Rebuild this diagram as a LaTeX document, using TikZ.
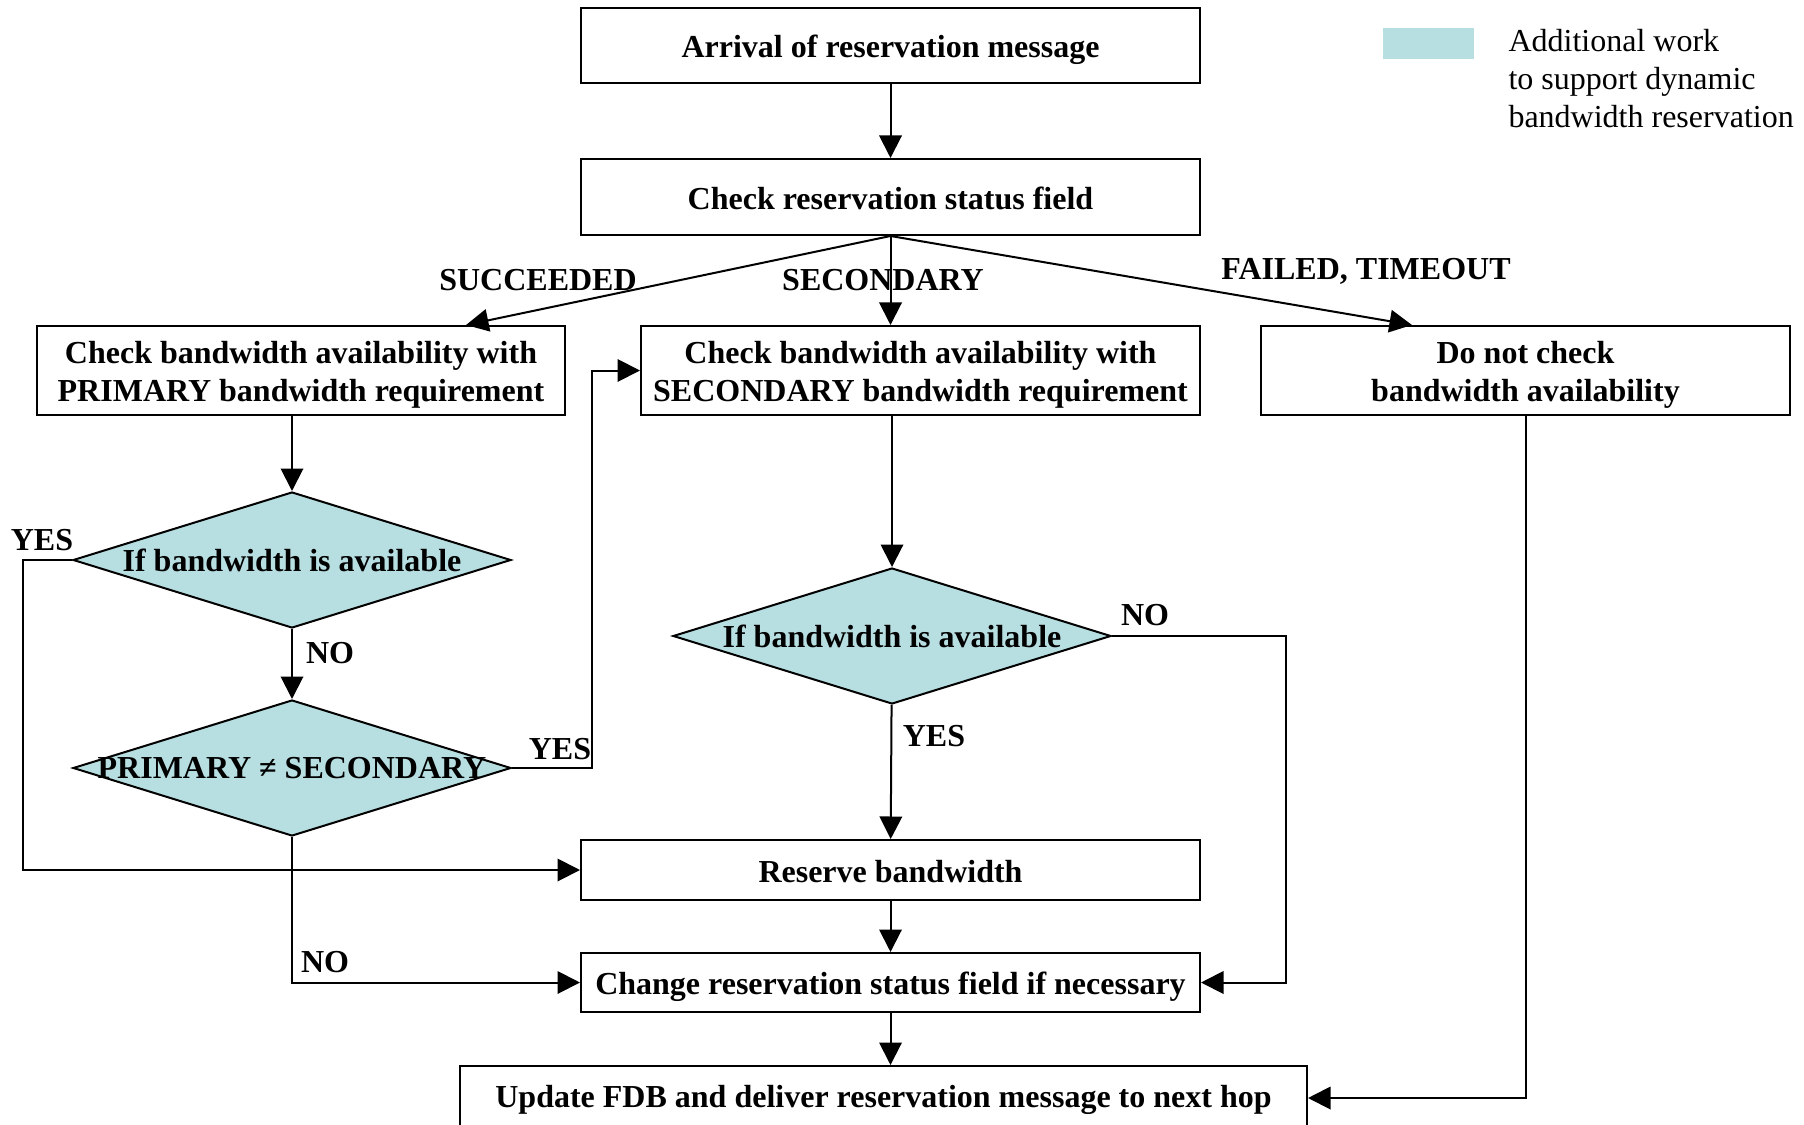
\documentclass[tikz,border=0pt]{standalone}
\usepackage{fontspec}
\setmainfont{Liberation Serif}
\usepackage{tikz}
\usetikzlibrary{arrows.meta,calc,shapes.geometric}
\definecolor{zusatz}{RGB}{183,223,226}
%Text im Kasten etwas tiefer setzen
\newcommand{\tief}[2][1.8pt]{\raisebox{-#1}[\height][\depth]{\begin{tabular}{@{}c@{}}#2\end{tabular}}}
\tikzset{
  kasten/.style={draw,line width=0.8pt,inner sep=0pt,
    font=\fontsize{12.8}{15.2}\selectfont\bfseries},
  raute/.style={draw,shape=diamond,fill=zusatz,line width=0.8pt,inner sep=0pt,
    minimum width=175.2pt,minimum height=54.4pt,
    font=\fontsize{12.8}{15.2}\selectfont\bfseries},
  marke/.style={inner sep=0pt,font=\fontsize{12.8}{15.2}\selectfont\bfseries},
  pfeil/.style={line width=0.8pt,-{Triangle[length=9pt,width=9pt]}}
}
\begin{document}
\begin{tikzpicture}[x=0.4pt,y=-0.4pt]
\useasboundingbox (0,0) rectangle (1804,1125);
%Kaesten
\node[kasten,minimum width=247.6pt,minimum height=30pt] (arrival) at (890.5,45.5) {\tief{Arrival of reservation message}};
\node[kasten,minimum width=247.6pt,minimum height=30.4pt] (status) at (890.5,197) {\tief{Check reservation status field}};
\node[kasten,minimum width=211.2pt,minimum height=35.6pt] (primary) at (301,370.5) {\tief{Check bandwidth availability with\\PRIMARY bandwidth requirement}};
\node[kasten,minimum width=223.6pt,minimum height=35.6pt] (secondary) at (920.5,370.5) {\tief{Check bandwidth availability with\\SECONDARY bandwidth requirement}};
\node[kasten,minimum width=211.6pt,minimum height=35.6pt] (nocheck) at (1525.5,370.5) {\tief{Do not check\\bandwidth availability}};
\node[kasten,minimum width=247.6pt,minimum height=24pt] (reserve) at (890.5,870) {\tief{Reserve bandwidth}};
\node[kasten,minimum width=247.6pt,minimum height=23.6pt] (change) at (890.5,982.5) {\tief{Change reservation status field if necessary}};
\node[kasten,minimum width=338.8pt,minimum height=25.6pt] (update) at (883.5,1098) {\tief[0.9pt]{Update FDB and deliver reservation message to next hop}};
%Entscheidungen
\node[raute] (availA) at (292,560) {\makebox[0pt]{If bandwidth is available}};
\node[raute] (differ) at (292,768) {\makebox[0pt]{PRIMARY ≠ SECONDARY}};
\node[raute] (availB) at (892,636) {\makebox[0pt]{If bandwidth is available}};
%Legende
\fill[zusatz] (1383,28) rectangle (1474,59);
\node[anchor=west,align=left,inner sep=0pt,font=\fontsize{12.8}{15.2}\selectfont] (legende) at (1508,79) {Additional work\\to support dynamic\\bandwidth reservation};
%Beschriftungen
\node[marke] (lblSucc) at (538,280) {SUCCEEDED};
\node[marke] (lblSec) at (883,280) {SECONDARY};
\node[marke] (lblFail) at (1366,271) {FAILED, TIMEOUT};
\node[marke] (lblYesA) at (42,540) {YES};
\node[marke] (lblNoA) at (330,653) {NO};
\node[marke] (lblYesD) at (560,749) {YES};
\node[marke] (lblNoB) at (1145,615) {NO};
\node[marke] (lblYesB) at (934,736) {YES};
\node[marke] (lblNoD) at (325,962) {NO};
%Pfeile
\draw[pfeil] (arrival) -- (status);
\draw[pfeil] (status.south) -- ($(primary.north)+(165,0)$);
\draw[pfeil] (status.south) -- (status.south |- secondary.north);
\draw[pfeil] (status.south) -- ($(nocheck.north)+(-113.5,0)$);
\draw[pfeil] (primary.south -| availA.north) -- (availA.north);
\draw[pfeil] (availA) -- (differ);
\draw[pfeil] (availA.west) -- ++(-49,0) |- (reserve.west);
\draw[pfeil] (differ.east) -- ++(80,0) |- (secondary.west);
\draw[pfeil] (differ.south) |- (change.west);
\draw[pfeil] (secondary.south -| availB.north) -- (availB.north);
\draw[pfeil] (availB) -- (reserve);
\draw[pfeil] (availB.east) -- ++(174,0) |- (change.east);
\draw[pfeil] (reserve) -- (change);
\draw[pfeil] (change) -- (change.south |- update.north);
\draw[pfeil] (nocheck.south) |- (update.east);
\end{tikzpicture}
\end{document}
